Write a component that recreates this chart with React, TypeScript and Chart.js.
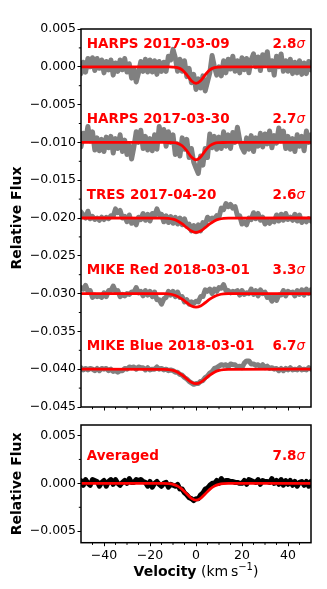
import React, { useEffect, useRef } from "react";
import { Chart, registerables } from "chart.js";

Chart.register(...registerables);
Chart.defaults.font.family = "'DejaVu Sans', sans-serif";
Chart.defaults.color = "#000";

// ---------- data ----------
const velocity = [
  -50, -49, -48, -47, -46, -45, -44, -43, -42, -41,
  -40, -39, -38, -37, -36, -35, -34, -33, -32, -31,
  -30, -29, -28, -27, -26, -25, -24, -23, -22, -21,
  -20, -19, -18, -17, -16, -15, -14, -13, -12, -11,
  -10, -9, -8, -7, -6, -5, -4, -3, -2, -1,
  0, 1, 2, 3, 4, 5, 6, 7, 8, 9,
  10, 11, 12, 13, 14, 15, 16, 17, 18, 19,
  20, 21, 22, 23, 24, 25, 26, 27, 28, 29,
  30, 31, 32, 33, 34, 35, 36, 37, 38, 39,
  40, 41, 42, 43, 44, 45, 46, 47, 48, 49, 50,
];

const modelVelocity = [-50, -14, -12, -10, -8, -6, -4, -2, 0, 2, 4, 6, 8, 10, 12, 14, 50];

const harps0309Flux = [
  -0.0009, 0.0006, -0.0007, 0.0011, 0.0, 0.0012, -0.0005, 0.0011, -0.0002, 0.0009,
  -0.0008, 0.0007, -0.0004, 0.0009, -0.0011, 0.0005, -0.0006, 0.0009, -0.0004, 0.0011,
  -0.0007, 0.0004, -0.0015, -0.0003, -0.002, -0.0008, 0.0007, -0.0006, 0.001, -0.0007,
  0.0009, -0.0007, 0.0008, -0.001, 0.0007, -0.0006, 0.0006, -0.0006, 0.0014, 0.0009,
  0.0023, 0.0012, -0.0006, 0.001, -0.0006, 0.0008, -0.0013, -0.0002, -0.0021, -0.001,
  -0.003, -0.0016, -0.0028, -0.0012, -0.0032, -0.002, -0.0008, 0.0015, 0.0, -0.0011,
  0.0, -0.0012, 0.0008, -0.0008, 0.001, -0.0003, 0.0014, -0.0006, 0.0008, -0.0008,
  0.0012, -0.0004, 0.0011, -0.0008, 0.0009, 0.0017, 0.0, 0.0013, -0.0005, 0.0016,
  0.0004, 0.002, -0.0004, 0.0008, -0.0011, 0.0014, 0.0, 0.0017, -0.0006, 0.0008,
  -0.0006, 0.001, -0.0009, 0.0006, -0.0008, 0.0008, -0.001, 0.0005, -0.0009, 0.0007, -0.0004,
];

const harps0330Flux = [
  -0.0106, -0.0088, -0.0097, -0.0079, -0.0098, -0.0086, -0.011, -0.0094, -0.0111, -0.0096,
  -0.0112, -0.0093, -0.0107, -0.0092, -0.0114, -0.0095, -0.0108, -0.009, -0.0112, -0.0097,
  -0.0116, -0.0104, -0.0122, -0.0106, -0.0086, -0.01, -0.0084, -0.0108, -0.0092, -0.011,
  -0.0095, -0.0111, -0.009, -0.0109, -0.0079, -0.0096, -0.0083, -0.0105, -0.0086, -0.01,
  -0.009, -0.0116, -0.0102, -0.0118, -0.0094, -0.0109, -0.0096, -0.012, -0.0108, -0.0126,
  -0.0134, -0.0141, -0.0118, -0.013, -0.0108, -0.012, -0.0089, -0.0107, -0.0092, -0.0109,
  -0.0093, -0.0108, -0.0086, -0.0105, -0.009, -0.0108, -0.0087, -0.01, -0.008, -0.0097,
  -0.0107, -0.0113, -0.0094, -0.0109, -0.0091, -0.0112, -0.0094, -0.0105, -0.0088, -0.0106,
  -0.0089, -0.0102, -0.0085, -0.0107, -0.0091, -0.0101, -0.0081, -0.0098, -0.0085, -0.0108,
  -0.0092, -0.0109, -0.0095, -0.0112, -0.009, -0.0105, -0.0092, -0.0111, -0.0085, -0.01, -0.009,
];

const tres0420Flux = [
  -0.0192, -0.0196, -0.02, -0.0191, -0.0201, -0.0198, -0.0202, -0.02, -0.0203, -0.0199,
  -0.0202, -0.0199, -0.0201, -0.0197, -0.0198, -0.0188, -0.0193, -0.019, -0.02, -0.0198,
  -0.0205, -0.0196, -0.0207, -0.0204, -0.0209, -0.0199, -0.0202, -0.0194, -0.0203, -0.0195,
  -0.0204, -0.0194, -0.0197, -0.0188, -0.0196, -0.0195, -0.0205, -0.0197, -0.0206, -0.0198,
  -0.0207, -0.0199, -0.0208, -0.02, -0.0209, -0.0201, -0.0211, -0.0208, -0.0217, -0.021,
  -0.0218, -0.0209, -0.0217, -0.0206, -0.0209, -0.0199, -0.0202, -0.02, -0.0201, -0.0197,
  -0.0199, -0.0187, -0.0189, -0.0181, -0.0185, -0.0182, -0.0187, -0.0185, -0.0197, -0.0197,
  -0.0208, -0.0205, -0.0209, -0.02, -0.0202, -0.0193, -0.0201, -0.0194, -0.0203, -0.0199,
  -0.0208, -0.0204, -0.0207, -0.0203, -0.0205, -0.0196, -0.0204, -0.0195, -0.0203, -0.0194,
  -0.0202, -0.0199, -0.0203, -0.0195, -0.0204, -0.0196, -0.0206, -0.0202, -0.0205, -0.0201, -0.0204,
];

const mikeRedFlux = [
  -0.0292, -0.0294, -0.0289, -0.0297, -0.0296, -0.0305, -0.0302, -0.0304, -0.0303, -0.0305,
  -0.0299, -0.0304, -0.0296, -0.0296, -0.029, -0.0297, -0.0296, -0.0304, -0.0301, -0.0303,
  -0.03, -0.0301, -0.0298, -0.0298, -0.0292, -0.0299, -0.0297, -0.0303, -0.0296, -0.0302,
  -0.0297, -0.0304, -0.0298, -0.0308, -0.0308, -0.0314, -0.0307, -0.0305, -0.0297, -0.0302,
  -0.0297, -0.0304, -0.0298, -0.0305, -0.0304, -0.0311, -0.0308, -0.0314, -0.0311, -0.0313,
  -0.031, -0.0311, -0.0304, -0.0304, -0.0295, -0.0297, -0.0294, -0.03, -0.0294, -0.0297,
  -0.0292, -0.0293, -0.0288, -0.0296, -0.0296, -0.0299, -0.0297, -0.0298, -0.0296, -0.0302,
  -0.0296, -0.0301, -0.0299, -0.03, -0.0294, -0.0301, -0.0296, -0.0303, -0.0295, -0.03,
  -0.0298, -0.0305, -0.0304, -0.031, -0.0303, -0.0309, -0.0302, -0.0302, -0.0296, -0.0303,
  -0.0297, -0.0299, -0.0298, -0.0303, -0.0296, -0.0301, -0.0295, -0.0302, -0.0294, -0.03, -0.0295,
];

const mikeBlueFlux = [
  -0.0398, -0.0401, -0.0399, -0.0401, -0.0399, -0.04, -0.0402, -0.0399, -0.0402, -0.0399,
  -0.04, -0.0399, -0.0402, -0.04, -0.0403, -0.0402, -0.0404, -0.0402, -0.0402, -0.0399,
  -0.04, -0.0397, -0.0398, -0.0397, -0.04, -0.0397, -0.0398, -0.0398, -0.0401, -0.0398,
  -0.0401, -0.04, -0.04, -0.0397, -0.04, -0.0399, -0.0401, -0.04, -0.0402, -0.0401,
  -0.0402, -0.0404, -0.0404, -0.0407, -0.0408, -0.0411, -0.0413, -0.0416, -0.0418, -0.042,
  -0.0419, -0.0419, -0.0416, -0.0415, -0.0411, -0.0409, -0.0405, -0.0403, -0.0399, -0.0398,
  -0.0396, -0.0394, -0.0395, -0.0394, -0.0397, -0.0393, -0.0394, -0.0394, -0.0397, -0.0396,
  -0.0398, -0.0392, -0.0389, -0.0389, -0.0393, -0.0393, -0.0395, -0.0394, -0.0397, -0.0394,
  -0.0398, -0.0396, -0.0399, -0.0398, -0.04, -0.0399, -0.0402, -0.0399, -0.0402, -0.0399,
  -0.0401, -0.0398, -0.0401, -0.04, -0.0401, -0.0398, -0.0401, -0.04, -0.0401, -0.0398, -0.04,
];

const averagedFlux = [
  0.0003, -0.0002, 0.0004, 0.0, -0.0002, 0.0004, 0.0003, 0.0002, -0.0003, 0.0001,
  0.0003, -0.0003, 0.0002, 0.0004, -0.0001, 0.0004, 0.0, -0.0002, 0.0001, 0.0003,
  0.0, 0.0005, 0.0001, 0.0001, 0.0004, 0.0003, 0.0004, 0.0002, 0.0001, -0.0003,
  0.0002, -0.0004, 0.0, 0.0002, -0.0001, -0.0003, 0.0, 0.0001, -0.0004, -0.0001,
  -0.0002, -0.0003, -0.0001, -0.0006, -0.0006, -0.001, -0.0012, -0.0015, -0.0016, -0.0018,
  -0.0016, -0.0016, -0.0012, -0.001, -0.0006, -0.0005, -0.0002, 0.0, 0.0, 0.0003,
  0.0, 0.0005, 0.0002, 0.0003, 0.0003, 0.0002, 0.0002, 0.0001, 0.0001, 0.0,
  0.0, 0.0003, -0.0001, 0.0004, 0.0003, 0.0002, 0.0001, 0.0004, -0.0001, 0.0003,
  0.0002, 0.0002, 0.0001, 0.0005, 0.0, 0.0003, -0.0001, 0.0004, -0.0002, 0.0003,
  -0.0001, 0.0003, -0.0002, 0.0002, -0.0003, 0.0001, 0.0002, -0.0002, 0.0002, -0.0003, 0.0002,
];

const harps0309Model = [0, 0, -0.00001, -0.00003, -0.00012, -0.00042, -0.00106, -0.00184, -0.0022, -0.00184, -0.00106, -0.00042, -0.00012, -0.00003, -0.00001, 0, 0];
const harps0330Model = [-0.01, -0.01, -0.01001, -0.01003, -0.01012, -0.01044, -0.01111, -0.01192, -0.0123, -0.01192, -0.01111, -0.01044, -0.01012, -0.01003, -0.01001, -0.01, -0.01];
const tres0420Model = [-0.02, -0.02002, -0.02005, -0.02016, -0.02039, -0.02078, -0.02128, -0.02172, -0.0219, -0.02172, -0.02128, -0.02078, -0.02039, -0.02016, -0.02005, -0.02002, -0.02];
const mikeRedModel = [-0.03, -0.03001, -0.03005, -0.03015, -0.03037, -0.03074, -0.03121, -0.03163, -0.0318, -0.03163, -0.03121, -0.03074, -0.03037, -0.03015, -0.03005, -0.03001, -0.03];
const mikeBlueModel = [-0.04, -0.04002, -0.04005, -0.04016, -0.04039, -0.04078, -0.04128, -0.04172, -0.0419, -0.04172, -0.04128, -0.04078, -0.04039, -0.04016, -0.04005, -0.04002, -0.04];
const averagedModel = [0, -0.00001, -0.00003, -0.0001, -0.00029, -0.00063, -0.00111, -0.00156, -0.00175, -0.00156, -0.00111, -0.00063, -0.00029, -0.0001, -0.00003, -0.00001, 0];

const panelNames = ["HARPS 2017-03-09", "HARPS 2017-03-30", "TRES 2017-04-20", "MIKE Red 2018-03-01", "MIKE Blue 2018-03-01"];
const panelSigmas = ["2.8", "2.7", "2.6", "3.3", "6.7"];
const panelBaselines = [0, -0.01, -0.02, -0.03, -0.04];
const averagedName = "Averaged";
const averagedSigma = "7.8";

const xTicks = [-40, -20, 0, 20, 40];
const xMinorTicks = [-45, -35, -30, -25, -15, -10, -5, 5, 10, 15, 25, 30, 35, 45];
const yTicksTop = [0.005, 0, -0.005, -0.01, -0.015, -0.02, -0.025, -0.03, -0.035, -0.04, -0.045];
const yMinorTop = [0.0025, -0.0025, -0.0075, -0.0125, -0.0175, -0.0225, -0.0275, -0.0325, -0.0375, -0.0425];
const yTicksBottom = [0.005, 0, -0.005];
const yMinorBottom = [0.0025, -0.0025];

// ---------- helpers ----------
const pts = (xs: number[], ys: number[]) => xs.map((x, i) => ({ x, y: ys[i] }));
const fmt = (v: number, d: number) => {
  const s = (Math.abs(v) < 1e-12 ? 0 : v).toFixed(d);
  return s.replace("-", "\u2212");
};

const dataSet = (xs: number[], ys: number[], color: string) => ({
  data: pts(xs, ys),
  borderColor: color,
  borderWidth: 5,
  pointRadius: 0,
  tension: 0,
  borderJoinStyle: "round" as const,
  borderCapStyle: "round" as const,
});
const modelSet = (xs: number[], ys: number[]) => ({
  data: pts(xs, ys),
  borderColor: "#ff0000",
  borderWidth: 2.8,
  pointRadius: 0,
  cubicInterpolationMode: "monotone" as const,
});

const framePlugin = {
  id: "frameTicks",
  afterDraw(chart: any, _a: any, opts: any) {
    const { ctx, chartArea: a } = chart;
    const xs = chart.scales.x, ys = chart.scales.y;
    ctx.save();
    ctx.strokeStyle = "#000";
    ctx.lineWidth = 1;
    ctx.beginPath();
    (opts.xMinor || []).forEach((v: number) => {
      const px = xs.getPixelForValue(v);
      ctx.moveTo(px, a.bottom);
      ctx.lineTo(px, a.bottom + 2.2);
    });
    (opts.yMinor || []).forEach((v: number) => {
      const py = ys.getPixelForValue(v);
      ctx.moveTo(a.left, py);
      ctx.lineTo(a.left - 2.2, py);
    });
    ctx.stroke();
    ctx.lineWidth = 1.5;
    ctx.strokeRect(a.left, a.top, a.right - a.left, a.bottom - a.top);
    ctx.restore();
  },
};

const textPlugin = {
  id: "panelText",
  afterDatasetsDraw(chart: any, _a: any, opts: any) {
    const { ctx } = chart;
    const xs = chart.scales.x, ys = chart.scales.y;
    ctx.save();
    ctx.fillStyle = "#ff0000";
    ctx.textBaseline = "middle";
    const bold = "bold 13.5px 'DejaVu Sans'";
    const ital = "italic 13.5px 'DejaVu Sans'";
    (opts.items || []).forEach((it: any) => {
      const py = ys.getPixelForValue(it.y);
      ctx.font = bold;
      ctx.textAlign = "left";
      ctx.fillText(it.name, xs.getPixelForValue(opts.leftX), py);
      const rx = xs.getPixelForValue(opts.rightX);
      ctx.font = ital;
      const sw = ctx.measureText("\u03c3").width;
      ctx.textAlign = "right";
      ctx.fillText("\u03c3", rx, py);
      ctx.font = bold;
      ctx.fillText(it.sig, rx - sw, py);
    });
    if (opts.xTitle) {
      const a = chart.chartArea;
      const base = a.bottom + 33;
      const parts = [
        { t: "Velocity", f: "bold 14px 'DejaVu Sans'", dy: 0 },
        { t: " (km", f: "14px 'DejaVu Sans'", dy: 0 },
        { t: "\u2009s", f: "14px 'DejaVu Sans'", dy: 0 },
        { t: "\u22121", f: "10px 'DejaVu Sans'", dy: -6 },
        { t: ")", f: "14px 'DejaVu Sans'", dy: 0 },
      ];
      let total = 0;
      parts.forEach((p) => { ctx.font = p.f; total += ctx.measureText(p.t).width; });
      let x = (a.left + a.right) / 2 - total / 2;
      ctx.fillStyle = "#000";
      ctx.textAlign = "left";
      ctx.textBaseline = "alphabetic";
      parts.forEach((p) => {
        ctx.font = p.f;
        ctx.fillText(p.t, x, base + p.dy);
        x += ctx.measureText(p.t).width;
      });
    }
    ctx.restore();
  },
};

function makeConfig(opts: {
  datasets: any[];
  yMin: number; yMax: number; yTicks: number[]; yMinor: number[];
  showXLabels: boolean; items: any[]; xTitle: boolean; padding: any;
}) {
  const tickGrid = {
    display: true,
    drawOnChartArea: false,
    drawTicks: true,
    tickLength: 3.5,
    tickWidth: 1,
    tickColor: "#000",
  };
  return {
    type: "line" as const,
    data: { datasets: opts.datasets },
    plugins: [framePlugin, textPlugin],
    options: {
      responsive: false,
      animation: false as const,
      devicePixelRatio: 1,
      events: [],
      layout: { padding: opts.padding },
      plugins: {
        legend: { display: false },
        tooltip: { enabled: false },
        frameTicks: { xMinor: xMinorTicks, yMinor: opts.yMinor },
        panelText: { items: opts.items, leftX: -47.5, rightX: 47.4, xTitle: opts.xTitle },
      },
      scales: {
        x: {
          type: "linear" as const,
          min: -50,
          max: 50,
          afterBuildTicks: (s: any) => { s.ticks = xTicks.map((v) => ({ value: v })); },
          ticks: {
            autoSkip: false,
            maxRotation: 0,
            padding: 2,
            font: { size: 12.5 },
            color: "#000",
            callback: (v: any) => (opts.showXLabels ? fmt(Number(v), 0) : ""),
          },
          grid: tickGrid,
          border: { display: false },
        },
        y: {
          type: "linear" as const,
          min: opts.yMin,
          max: opts.yMax,
          afterBuildTicks: (s: any) => { s.ticks = opts.yTicks.map((v) => ({ value: v })); },
          afterFit: (s: any) => { s.width = 81; },
          ticks: {
            autoSkip: false,
            padding: 1.5,
            font: { size: 12.5 },
            color: "#000",
            callback: (v: any) => fmt(Number(v), 3),
          },
          grid: tickGrid,
          border: { display: false },
          title: {
            display: true,
            text: "Relative Flux",
            color: "#000",
            font: { size: 14, weight: "bold" as const },
            padding: { top: 8.6, bottom: 0 },
          },
        },
      },
    },
  };
}

function fitArea(chart: any, pad: any, t: { top: number; bottom: number; right: number }) {
  for (let i = 0; i < 3; i++) {
    const a = chart.chartArea;
    pad.top += t.top - a.top;
    pad.bottom += a.bottom - t.bottom;
    pad.right += a.right - t.right;
    chart.options.layout.padding = { ...pad };
    chart.update();
  }
}

export default function App() {
  const topRef = useRef<HTMLCanvasElement>(null);
  const botRef = useRef<HTMLCanvasElement>(null);

  useEffect(() => {
    const topPad = { left: 0, top: 29, right: 16, bottom: 0 };
    const botPad = { left: 0, top: 6, right: 16, bottom: 0 };

    const topData = [
      modelSet(modelVelocity, harps0309Model),
      modelSet(modelVelocity, harps0330Model),
      modelSet(modelVelocity, tres0420Model),
      modelSet(modelVelocity, mikeRedModel),
      modelSet(modelVelocity, mikeBlueModel),
      dataSet(velocity, harps0309Flux, "#808080"),
      dataSet(velocity, harps0330Flux, "#808080"),
      dataSet(velocity, tres0420Flux, "#808080"),
      dataSet(velocity, mikeRedFlux, "#808080"),
      dataSet(velocity, mikeBlueFlux, "#808080"),
    ];
    const topItems = panelNames.map((name, i) => ({
      name,
      sig: panelSigmas[i],
      y: panelBaselines[i] + 0.003,
    }));

    const c1 = new Chart(topRef.current as HTMLCanvasElement, makeConfig({
      datasets: topData,
      yMin: -0.045, yMax: 0.005, yTicks: yTicksTop, yMinor: yMinorTop,
      showXLabels: false, items: topItems, xTitle: false, padding: { ...topPad },
    }) as any);

    const c2 = new Chart(botRef.current as HTMLCanvasElement, makeConfig({
      datasets: [
        modelSet(modelVelocity, averagedModel),
        dataSet(velocity, averagedFlux, "#000000"),
      ],
      yMin: -0.0062, yMax: 0.0061, yTicks: yTicksBottom, yMinor: yMinorBottom,
      showXLabels: true,
      items: [{ name: averagedName, sig: averagedSigma, y: 0.0028 }],
      xTitle: true, padding: { ...botPad },
    }) as any);

    fitArea(c1, topPad, { top: 29, bottom: 410, right: 311 });
    fitArea(c2, botPad, { top: 6.3, bottom: 126.7, right: 311 });

    return () => {
      c1.destroy();
      c2.destroy();
    };
  }, []);

  return (
    <div style={{ position: "absolute", left: 0, top: 0, width: 327, height: 589, background: "#fff" }}>
      <canvas ref={topRef} width={327} height={416} style={{ position: "absolute", left: 0, top: 0, display: "block" }} />
      <canvas ref={botRef} width={327} height={173} style={{ position: "absolute", left: 0, top: 416, display: "block" }} />
    </div>
  );
}
